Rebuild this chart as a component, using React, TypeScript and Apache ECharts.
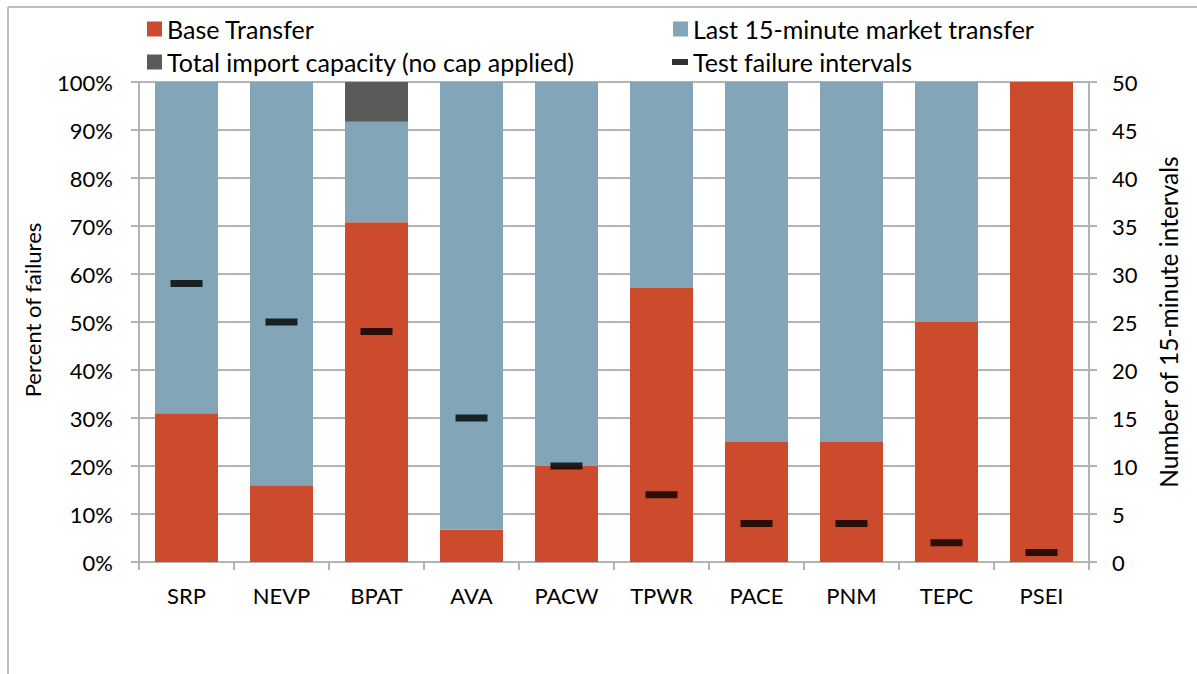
import React, { useEffect, useRef } from "react";
import * as echarts from "echarts";

const categories = ["SRP", "NEVP", "BPAT", "AVA", "PACW", "TPWR", "PACE", "PNM", "TEPC", "PSEI"];
const baseTransfer = [31.0, 16, 70.8, 6.7, 20, 57.1, 25, 25, 50, 100];
const lastMarketTransfer = [69.0, 84, 20.9, 93.3, 80, 42.9, 75, 75, 50, 0];
const totalImportCapacity = [0, 0, 8.3, 0, 0, 0, 0, 0, 0, 0];
const testFailureIntervals = [29, 25, 24, 15, 10, 7, 4, 4, 2, 1];

const FONT = "Lato";
const TXT = "#000000";
const GRID = "#B3B3B3";

export default function App() {
  const ref = useRef<HTMLDivElement>(null);
  useEffect(() => {
    const chart = echarts.init(ref.current!, null, { renderer: "svg" });
    const legendBase = {
      orient: "horizontal",
      padding: 0,
      itemGap: 0,
      itemWidth: 15,
      itemHeight: 15,
      icon: "rect",
      textStyle: { fontFamily: FONT, fontSize: 25, color: TXT, lineHeight: 26 },
    };
    chart.setOption({
      animation: false,
      backgroundColor: "#ffffff",
      textStyle: { fontFamily: FONT },
      graphic: [
        { type: "line", shape: { x1: 8, y1: 7, x2: 1197, y2: 7 }, style: { stroke: "#BFBFBF", lineWidth: 2 } },
        { type: "line", shape: { x1: 8, y1: 7, x2: 8, y2: 674 }, style: { stroke: "#BFBFBF", lineWidth: 2 } },
      ],
      legend: [
        { ...legendBase, data: ["Base Transfer"], left: 147, top: 16 },
        { ...legendBase, data: ["Last 15-minute market transfer"], left: 673, top: 16 },
        { ...legendBase, data: ["Total import capacity (no cap applied)"], left: 147, top: 49 },
        { ...legendBase, data: ["Test failure intervals"], left: 672, top: 49, itemWidth: 16, itemHeight: 6 },
      ],
      grid: { left: 139, right: 108, top: 82, bottom: 112, containLabel: false },
      xAxis: {
        type: "category",
        data: categories,
        boundaryGap: true,
        axisLine: { lineStyle: { color: GRID, width: 2 } },
        axisTick: { show: true, length: 8, lineStyle: { color: GRID, width: 2 } },
        axisLabel: { fontFamily: FONT, fontSize: 22, color: TXT, margin: 22 },
      },
      yAxis: [
        {
          type: "value",
          min: 0,
          max: 100,
          interval: 10,
          name: "Percent of failures",
          nameLocation: "middle",
          nameGap: 96,
          nameTextStyle: { fontFamily: FONT, fontSize: 22, color: TXT, padding: [0, 0, 0, 24] },
          axisLine: { show: true, lineStyle: { color: GRID, width: 2 } },
          axisTick: { show: true, length: 8, lineStyle: { color: GRID, width: 2 } },
          axisLabel: { fontFamily: FONT, fontSize: 22, color: TXT, margin: 26, formatter: "{value}%" },
          splitLine: { show: true, lineStyle: { color: GRID, width: 2 } },
        },
        {
          type: "value",
          position: "right",
          min: 0,
          max: 50,
          interval: 5,
          name: "Number of 15-minute intervals",
          nameLocation: "middle",
          nameGap: 67,
          nameTextStyle: { fontFamily: FONT, fontSize: 24.5, color: TXT },
          axisLine: { show: true, lineStyle: { color: GRID, width: 2 } },
          axisTick: { show: true, length: 8, lineStyle: { color: GRID, width: 2 } },
          axisLabel: { fontFamily: FONT, fontSize: 22, color: TXT, margin: 23 },
          splitLine: { show: false },
        },
      ],
      series: [
        {
          name: "Base Transfer",
          type: "bar",
          stack: "pct",
          barWidth: 63,
          itemStyle: { color: "#CB4B2C" },
          data: baseTransfer,
        },
        {
          name: "Last 15-minute market transfer",
          type: "bar",
          stack: "pct",
          barWidth: 63,
          itemStyle: { color: "#82A5B8" },
          data: lastMarketTransfer,
        },
        {
          name: "Total import capacity (no cap applied)",
          type: "bar",
          stack: "pct",
          barWidth: 63,
          itemStyle: { color: "#5A5A5A" },
          data: totalImportCapacity,
        },
        {
          name: "Test failure intervals",
          type: "scatter",
          yAxisIndex: 1,
          symbol: "rect",
          symbolSize: [32, 7],
          itemStyle: { color: "#000000" },
          z: 5,
          data: testFailureIntervals,
        },
      ],
    });
    return () => chart.dispose();
  }, []);
  return <div ref={ref} style={{ position: "fixed", left: 0, top: 0, width: 1197, height: 674 }} />;
}
